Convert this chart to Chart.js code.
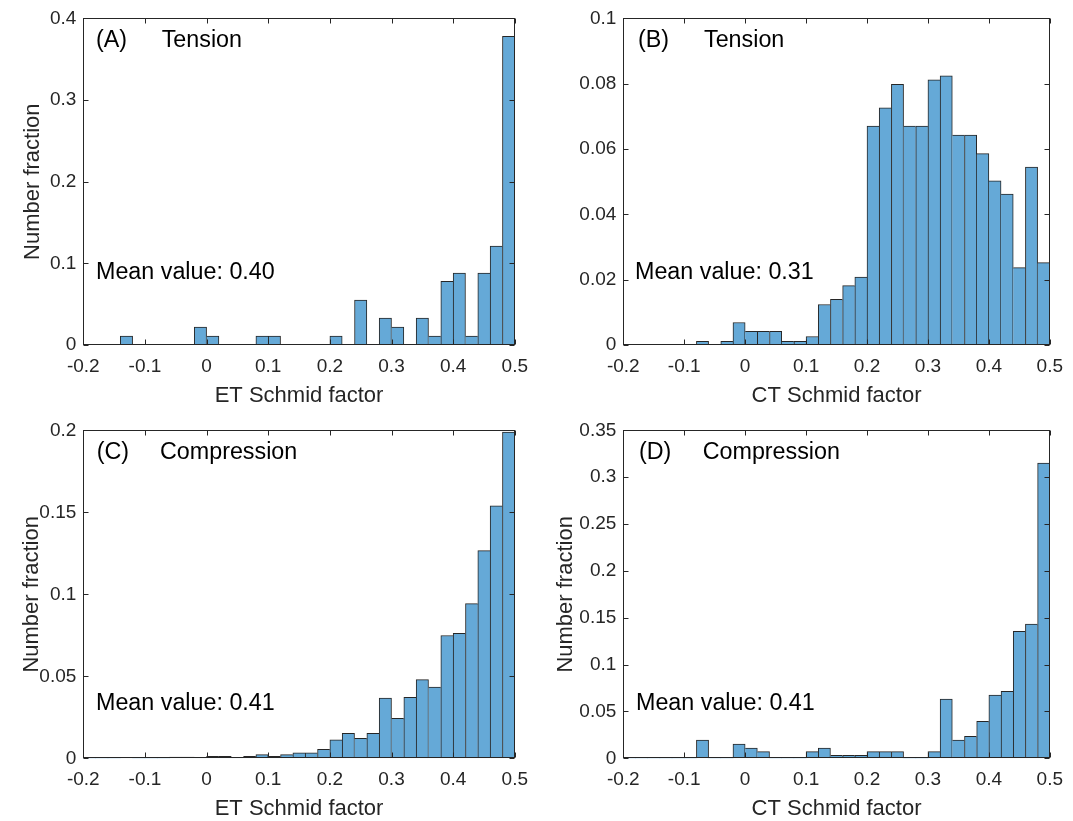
<!DOCTYPE html>
<html>
<head>
<meta charset="utf-8">
<title>Schmid factor histograms</title>
<script src="https://cdn.jsdelivr.net/npm/chart.js@4.4.1/dist/chart.umd.min.js"></script>
<style>
  html, body { margin: 0; padding: 0; background: #fff; }
  #wrap { position: relative; width: 1073px; height: 821px; overflow: hidden; }
  #wrap canvas { position: absolute; }
</style>
</head>
<body>
<div id="wrap">
  <canvas id="chartA"></canvas>
  <canvas id="chartB"></canvas>
  <canvas id="chartC"></canvas>
  <canvas id="chartD"></canvas>
</div>
<script>
// bin centres, 0.02 wide bins from -0.2 to 0.5
const binCenters = [-0.19, -0.17, -0.15, -0.13, -0.11, -0.09, -0.07, -0.05, -0.03, -0.01,
  0.01, 0.03, 0.05, 0.07, 0.09, 0.11, 0.13, 0.15, 0.17, 0.19,
  0.21, 0.23, 0.25, 0.27, 0.29, 0.31, 0.33, 0.35, 0.37, 0.39,
  0.41, 0.43, 0.45, 0.47, 0.49]

// number fraction per bin
const etTension = [0, 0, 0, 0.011, 0, 0, 0, 0, 0, 0.022,
  0.011, 0, 0, 0, 0.011, 0.011, 0, 0, 0, 0,
  0.011, 0, 0.055, 0, 0.033, 0.022, 0, 0.033, 0.011, 0.078,
  0.088, 0.011, 0.088, 0.121, 0.378]

const ctTension = [0, 0, 0, 0, 0, 0, 0.0011, 0, 0.0011, 0.0069,
  0.0042, 0.0042, 0.0042, 0.0011, 0.0011, 0.0026, 0.0124, 0.014, 0.0182, 0.0208,
  0.067, 0.0726, 0.0798, 0.067, 0.067, 0.0812, 0.0824, 0.0643, 0.0643, 0.0586,
  0.0503, 0.0462, 0.0237, 0.0545, 0.0252]

const etCompression = [0, 0, 0, 0.0004, 0, 0, 0, 0.0008, 0.0008, 0.0004,
  0.0012, 0.0012, 0.0004, 0.0012, 0.0022, 0.0012, 0.0022, 0.0033, 0.0033, 0.0055,
  0.0112, 0.0152, 0.0122, 0.0152, 0.0368, 0.0244, 0.0372, 0.048, 0.0435, 0.0749,
  0.0763, 0.0943, 0.1267, 0.154, 0.199]

const ctCompression = [0, 0, 0, 0, 0, 0, 0.0195, 0, 0, 0.0153,
  0.011, 0.0071, 0, 0, 0, 0.0071, 0.011, 0.0032, 0.0032, 0.0032,
  0.0071, 0.0071, 0.0071, 0, 0, 0.0071, 0.0633, 0.0195, 0.0235, 0.0394,
  0.0675, 0.0714, 0.1354, 0.1432, 0.315]

const xTicks = [-0.2, -0.1, 0, 0.1, 0.2, 0.3, 0.4, 0.5]
const yTicksA = [0, 0.1, 0.2, 0.3, 0.4]
const yTicksB = [0, 0.02, 0.04, 0.06, 0.08, 0.1]
const yTicksC = [0, 0.05, 0.1, 0.15, 0.2]
const yTicksD = [0, 0.05, 0.1, 0.15, 0.2, 0.25, 0.3, 0.35]

const FONT = "'Liberation Sans', Arial, Helvetica, sans-serif"
const AXIS_COLOR = "#262626"
const BAR_FILL = "#65a9d7"
const BAR_EDGE = "#262626"

// canvas placement and axes box (page pixels) for each panel
const panels = [
  { el: "chartA", tag: "(A)", mode: "Tension", mean: "Mean value: 0.40", values: etTension, yTicks: yTicksA,
    xTitle: "ET Schmid factor", yTitle: "Number fraction",
    canvas: { left: 0, top: 0, width: 538, height: 410 }, box: { left: 83.3, top: 16, right: 520, bottom: 345 },
    yTitleX: 32, tagPos: [12.7, 22], modePos: [78.4, 22], meanPos: [12.7, 254] },
  { el: "chartB", tag: "(B)", mode: "Tension", mean: "Mean value: 0.31", values: ctTension, yTicks: yTicksB,
    xTitle: "CT Schmid factor", yTitle: "",
    canvas: { left: 540, top: 0, width: 533, height: 410 }, box: { left: 623.3, top: 16, right: 1055, bottom: 345 },
    yTitleX: 565, tagPos: [14.7, 22], modePos: [80.7, 22], meanPos: [11.7, 254] },
  { el: "chartC", tag: "(C)", mode: "Compression", mean: "Mean value: 0.41", values: etCompression, yTicks: yTicksC,
    xTitle: "ET Schmid factor", yTitle: "Number fraction",
    canvas: { left: 0, top: 412, width: 538, height: 409 }, box: { left: 83.3, top: 430, right: 515, bottom: 758.3 },
    yTitleX: 31, tagPos: [13.4, 21.7], modePos: [76.7, 21.7], meanPos: [12.7, 272.7] },
  { el: "chartD", tag: "(D)", mode: "Compression", mean: "Mean value: 0.41", values: ctCompression, yTicks: yTicksD,
    xTitle: "CT Schmid factor", yTitle: "Number fraction",
    canvas: { left: 540, top: 412, width: 533, height: 409 }, box: { left: 623.3, top: 430, right: 1055, bottom: 758.3 },
    yTitleX: 565, tagPos: [15.7, 21.7], modePos: [79.4, 21.7], meanPos: [12.7, 272.7] },
]

// MATLAB style box with inward ticks, plus the panel texts
const framePlugin = {
  id: "frame",
  afterDatasetsDraw(chart, args, opts) {
    const { ctx, chartArea: a, scales: { x, y } } = chart
    const L = Math.round(a.left) + 0.5, R = Math.round(a.right) - 0.5
    const T = Math.round(a.top) + 0.5, B = Math.round(a.bottom) - 0.5
    ctx.save()
    ctx.strokeStyle = AXIS_COLOR
    ctx.lineWidth = 1
    ctx.beginPath()
    x.ticks.forEach((t) => {
      const px = Math.round(x.getPixelForValue(t.value)) + 0.5
      ctx.moveTo(px, B); ctx.lineTo(px, B - 5)
      ctx.moveTo(px, T); ctx.lineTo(px, T + 5)
    })
    y.ticks.forEach((t) => {
      const py = Math.round(y.getPixelForValue(t.value)) + 0.5
      ctx.moveTo(L, py); ctx.lineTo(L + 5, py)
      ctx.moveTo(R, py); ctx.lineTo(R - 5, py)
    })
    ctx.stroke()
    ctx.strokeRect(L, T, R - L, B - T)

    ctx.fillStyle = "#000"
    ctx.font = "23.3px " + FONT
    ctx.textBaseline = "middle"
    ctx.textAlign = "left"
    ctx.fillText(opts.tag, a.left + opts.tagPos[0], a.top + opts.tagPos[1])
    ctx.fillText(opts.mode, a.left + opts.modePos[0], a.top + opts.modePos[1])
    ctx.fillText(opts.mean, a.left + opts.meanPos[0], a.top + opts.meanPos[1])
    ctx.restore()
  },
}

function edgeWidths(vals) {
  return (c) => {
    const i = c.dataIndex
    const v = vals[i]
    if (!(v > 0)) return 0
    const prev = i > 0 ? vals[i - 1] : 0
    const next = i < vals.length - 1 ? vals[i + 1] : 0
    return {
      top: 1,
      bottom: 0,
      left: i === 0 || prev <= v ? 1 : 0,
      right: i === vals.length - 1 || next < v ? 1 : 0,
    }
  }
}

panels.forEach((p) => {
  const cv = document.getElementById(p.el)
  cv.width = p.canvas.width
  cv.height = p.canvas.height
  cv.style.left = p.canvas.left + "px"
  cv.style.top = p.canvas.top + "px"
  cv.style.width = p.canvas.width + "px"
  cv.style.height = p.canvas.height + "px"

  const yAxisWidth = p.box.left - p.canvas.left
  const padTop = p.box.top - p.canvas.top
  const padRight = p.canvas.left + p.canvas.width - p.box.right
  const canvasBottom = p.canvas.top + p.canvas.height
  const xAxisHeight = canvasBottom - p.box.bottom
  const titleLine = 22 * 1.2 / 2
  const xTitlePadBottom = canvasBottom - (p.box.bottom + 51) - titleLine
  const yTitlePadTop = p.yTitleX + 1.2 - p.canvas.left - titleLine

  new Chart(cv, {
    type: "bar",
    data: {
      datasets: [{
        data: binCenters.map((c, i) => ({ x: c, y: p.values[i] })),
        backgroundColor: BAR_FILL,
        borderColor: BAR_EDGE,
        borderWidth: edgeWidths(p.values),
        borderSkipped: false,
        barPercentage: 1,
        categoryPercentage: 1,
      }],
    },
    options: {
      responsive: false,
      animation: false,
      devicePixelRatio: 1,
      layout: { padding: { top: padTop, right: padRight, bottom: 0, left: 0 } },
      plugins: {
        legend: { display: false },
        tooltip: { enabled: false },
        frame: { tag: p.tag, mode: p.mode, mean: p.mean, tagPos: p.tagPos, modePos: p.modePos, meanPos: p.meanPos },
      },
      scales: {
        x: {
          type: "linear",
          min: -0.2,
          max: 0.5,
          offset: false,
          grid: { display: false, drawTicks: false },
          border: { display: false },
          afterBuildTicks: (s) => { s.ticks = xTicks.map((v) => ({ value: v })) },
          afterFit: (s) => { s.height = xAxisHeight },
          ticks: {
            color: AXIS_COLOR,
            font: { family: FONT, size: 19 },
            padding: 10,
            maxRotation: 0,
            callback: (v) => String(v),
          },
          title: {
            display: true,
            text: p.xTitle,
            color: AXIS_COLOR,
            font: { family: FONT, size: 22 },
            padding: { top: 0, bottom: xTitlePadBottom },
          },
        },
        y: {
          type: "linear",
          min: 0,
          max: p.yTicks[p.yTicks.length - 1],
          grid: { display: false, drawTicks: false },
          border: { display: false },
          afterBuildTicks: (s) => { s.ticks = p.yTicks.map((v) => ({ value: v })) },
          afterFit: (s) => { s.width = yAxisWidth },
          ticks: {
            color: AXIS_COLOR,
            font: { family: FONT, size: 19 },
            padding: 7,
            callback: (v) => String(v),
          },
          title: {
            display: p.yTitle !== "",
            text: p.yTitle,
            color: AXIS_COLOR,
            font: { family: FONT, size: 22 },
            padding: { top: yTitlePadTop, bottom: 0 },
          },
        },
      },
    },
    plugins: [framePlugin],
  })
})
</script>
</body>
</html>
